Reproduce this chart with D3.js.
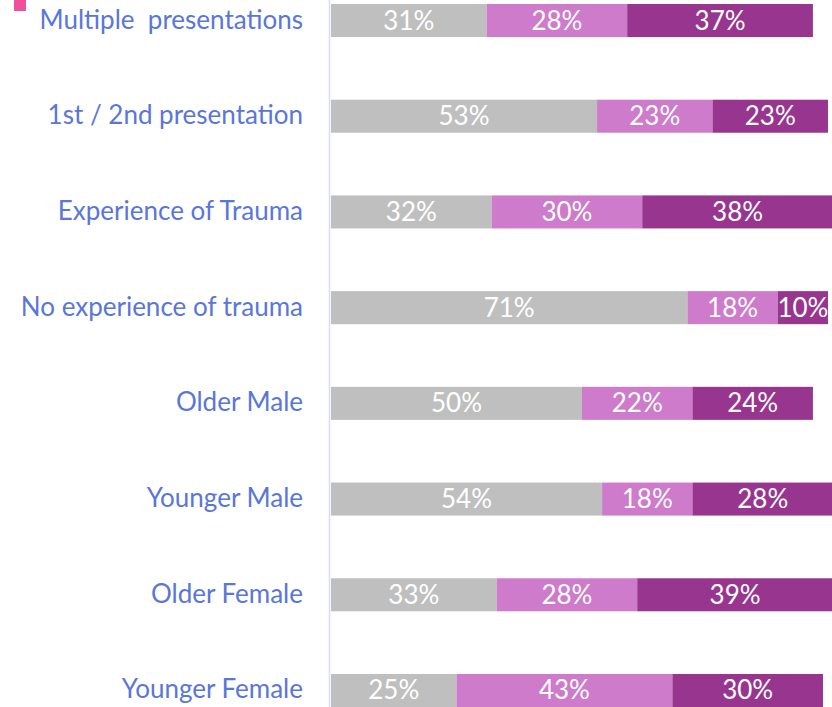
<!DOCTYPE html>
<html>
<head>
<meta charset="utf-8">
<script src="https://cdnjs.cloudflare.com/ajax/libs/d3/7.8.5/d3.min.js"></script>
<style>
  html, body { margin: 0; padding: 0; background: #fff; }
  svg { display: block; }
</style>
</head>
<body>
<div class="chart"></div>
<script>
(function(){
  // data, top row first
  var categories = ["Multiple  presentations", "1st / 2nd presentation", "Experience of Trauma",
                    "No experience of trauma", "Older Male", "Younger Male", "Older Female", "Younger Female"];
  var series1 = [31, 53, 32, 71, 50, 54, 33, 25];
  var series2 = [28, 23, 30, 18, 22, 18, 28, 43];
  var series3 = [37, 23, 38, 10, 24, 28, 39, 30];
  var seriesColors = ["#bfbfbf", "#cd7bca", "#98358f"];

  var width = 832, height = 707;
  var svg = d3.select(".chart").append("svg")
      .attr("width", width)
      .attr("height", height);

  var x = d3.scaleLinear().domain([0, 100]).range([331, 833]);
  var y = d3.scaleBand().domain(categories).range([4, 707]).paddingInner(0.655).paddingOuter(0);

  // stack it
  var rows = categories.map(function(c, i){
    return {cat: c, s0: series1[i], s1: series2[i], s2: series3[i]};
  });
  var stacked = d3.stack().keys(["s0", "s1", "s2"])(rows);

  // pink mark peeking in at top left (legend swatch cut off)
  svg.append("rect").attr("x", 14).attr("y", -2).attr("width", 12).attr("height", 13)
      .attr("fill", "#f0509b");

  // axis line
  svg.append("line")
      .attr("x1", 329.5).attr("x2", 329.5).attr("y1", 0).attr("y2", height)
      .attr("stroke", "#d8dcf4").attr("stroke-width", 1.5);

  var layers = svg.selectAll("g.layer").data(stacked).enter().append("g")
      .attr("class", "layer")
      .attr("fill", function(d, i){ return seriesColors[i]; });

  layers.selectAll("rect").data(function(d){ return d; }).enter().append("rect")
      .attr("x", function(d){ return x(d[0]); })
      .attr("y", function(d){ return y(d.data.cat); })
      .attr("width", function(d){ return x(d[1]) - x(d[0]); })
      .attr("height", y.bandwidth());

  layers.selectAll("text").data(function(d){ return d; }).enter().append("text")
      .attr("x", function(d){ return (x(d[0]) + x(d[1])) / 2; })
      .attr("y", function(d){ return y(d.data.cat) + y.bandwidth() / 2 + 9; })
      .attr("text-anchor", "middle")
      .attr("fill", "#ffffff")
      .style("font-family", "Lato, 'Open Sans', sans-serif")
      .style("font-size", "26px")
      .text(function(d){ return (d[1] - d[0]) + "%"; });

  // category labels
  svg.append("g").selectAll("text").data(categories).enter().append("text")
      .attr("x", 303)
      .attr("y", function(d){ return y(d) + y.bandwidth() / 2 + 8; })
      .attr("text-anchor", "end")
      .attr("fill", "#5a76d8")
      .style("font-family", "Lato, 'Open Sans', sans-serif")
      .style("font-size", "26px")
      .style("white-space", "pre")
      .text(function(d){ return d; });
})()
</script>
</body>
</html>
